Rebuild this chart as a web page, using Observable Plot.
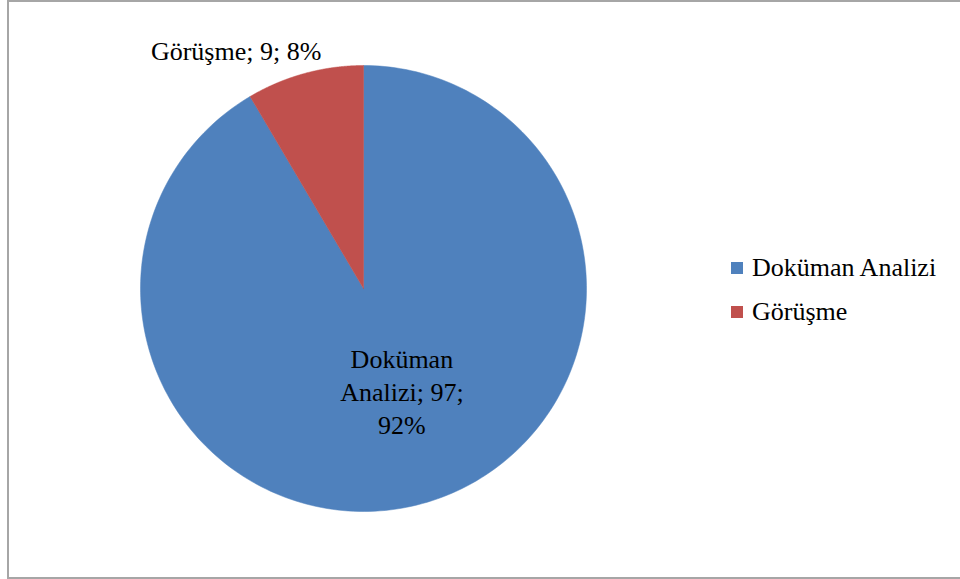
<!DOCTYPE html>
<html>
<head>
<meta charset="utf-8">
<script src="https://cdn.jsdelivr.net/npm/d3@7"></script>
<script src="https://cdn.jsdelivr.net/npm/@observablehq/plot@0.6"></script>
<style>
  html, body { margin: 0; padding: 0; background: #fff; overflow: hidden; }
  #wrap { position: relative; width: 960px; height: 579px; overflow: hidden; font-family: "Liberation Serif", "Times New Roman", serif; }
  #border { position: absolute; left: 7px; top: 0px; width: 1000px; height: 575px; border: 2px solid #a6a6a6; box-sizing: content-box; }
  #chart { position: absolute; left: 0; top: 0; }
  #legend { position: absolute; left: 731px; top: 246px; font-size: 26px; color: #000; }
  .row { display: flex; align-items: center; height: 44px; }
  .sw { width: 12px; height: 12px; margin-right: 9px; }
</style>
</head>
<body>
<div id="wrap">
  <div id="border"></div>
  <div id="chart"></div>
  <div id="legend"></div>
</div>
<script>
// Data
const categories = ["Doküman Analizi", "Görüşme"];
const counts = [97, 9];
const percents = ["92%", "8%"];
const colors = ["#4F81BD", "#C0504D"];

// Pie geometry from data (angles measured clockwise from 12 o'clock)
const pie = d3.pie().sort(null).value(d => d.count);
const rows = categories.map((c, i) => ({category: c, count: counts[i], pct: percents[i]}));
const arcs = pie(rows);

const poly = [];
arcs.forEach(a => {
  const steps = 240;
  poly.push({category: a.data.category, x: 0, y: 0});
  for (let k = 0; k <= steps; k++) {
    const t = a.startAngle + (a.endAngle - a.startAngle) * k / steps;
    poly.push({category: a.data.category, x: Math.sin(t), y: Math.cos(t)});
  }
  poly.push({category: a.data.category, x: 0, y: 0});
});

const labels = arcs.map(a => {
  const mid = (a.startAngle + a.endAngle) / 2;
  const inside = a.data.count / d3.sum(counts) > 0.5;
  const r = inside ? 0.5 : 1.13;
  return {
    x: r * Math.sin(mid), y: r * Math.cos(mid),
    text: inside ? `Doküman\nAnalizi; ${a.data.count};\n${a.data.pct}` : `${a.data.category}; ${a.data.count}; ${a.data.pct}`,
    inside
  };
});

const plot = Plot.plot({
  width: 960,
  height: 579,
  margin: 0,
  x: {domain: [-1, 1], range: [140, 586], axis: null},
  y: {domain: [-1, 1], range: [511, 65], axis: null},
  color: {domain: categories, range: colors},
  style: {background: "transparent", fontFamily: "Liberation Serif, Times New Roman, serif"},
  marks: [
    Plot.line(poly, {x: "x", y: "y", z: "category", fill: "category", stroke: "category", strokeWidth: 0.5, curve: "linear"}),
    Plot.text(labels.filter(d => d.inside), {x: "x", y: "y", text: "text", fontSize: 26, lineHeight: 1.27, fill: "#000", dx: 9, dy: -6, fontFamily: "Liberation Serif"}),
    Plot.text(labels.filter(d => !d.inside), {x: "x", y: "y", text: "text", fontSize: 26, fill: "#000", dx: -61, dy: 6, fontFamily: "Liberation Serif"})
  ]
});
document.getElementById("chart").appendChild(plot);

const lg = document.getElementById("legend");
categories.forEach((c, i) => {
  const row = document.createElement("div");
  row.className = "row";
  const sw = document.createElement("div");
  sw.className = "sw";
  sw.style.background = colors[i];
  const tx = document.createElement("span");
  tx.textContent = c;
  row.appendChild(sw); row.appendChild(tx);
  lg.appendChild(row);
});
</script>
</body>
</html>
